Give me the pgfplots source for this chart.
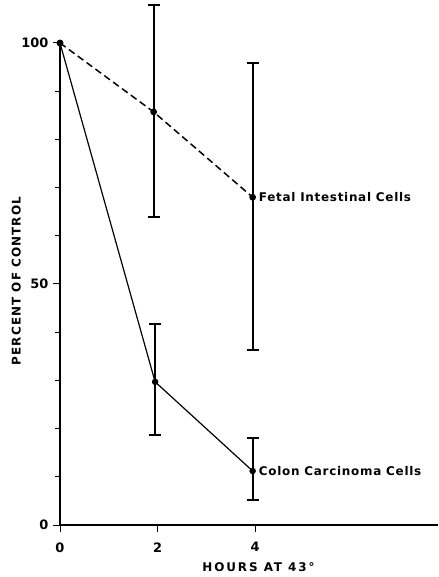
\documentclass[border=0pt]{standalone}
\usepackage{pgfplots}
\pgfplotsset{compat=1.18}
\usepackage{fontspec}
\setmainfont{DejaVu Sans}
\newfontfamily\lab[LetterSpace=6]{DejaVu Sans Bold}
\newfontfamily\labx[LetterSpace=16]{DejaVu Sans Bold}
\newfontfamily\laby[LetterSpace=9]{DejaVu Sans Bold}
\newfontfamily\tck{DejaVu Sans Bold}
\begin{document}
\begin{tikzpicture}
\begin{axis}[
  name=a,
  scale only axis,
  width=378bp, height=482bp,
  xmin=0, xmax=7.75, ymin=0, ymax=100,
  axis lines*=left,
  axis line style={line width=2.4pt},
  clip=false,
  xtick={0,2,4}, ytick={0,50,100},
  minor ytick={10,20,30,40,60,70,80,90},
  tick align=outside,
  major tick length=7bp, minor tick length=5bp,
  tick style={line width=1pt, black},
  /pgf/number format/assume math mode=true,
  ticklabel style={font=\tck\fontsize{13}{15}\selectfont},
  xticklabel style={yshift=-7bp},
  yticklabel style={xshift=-1bp},
]
\addplot[black, line width=1.5pt, dash pattern=on 7bp off 4bp,
  mark=*, mark size=2.6pt, mark options={solid},
  error bars/.cd, y dir=both, y explicit,
  error bar style={line width=1.8pt, solid}, error mark options={rotate=90, mark size=6bp, line width=1.5pt}]
  coordinates {(0,100) (1.92,85.7) += (0,22.2) -= (0,21.8) (3.95,68.0) += (0,27.8) -= (0,31.7)};
\addplot[black, line width=1.2pt,
  mark=*, mark size=2.6pt,
  error bars/.cd, y dir=both, y explicit,
  error bar style={line width=1.8pt}, error mark options={rotate=90, mark size=6bp, line width=1.5pt}]
  coordinates {(0,100) (1.95,29.7) += (0,12.0) -= (0,11.0) (3.95,11.2) += (0,6.8) -= (0,6.0)};
\node[anchor=west, font=\lab\fontsize{12}{14}\selectfont, inner sep=0pt, xshift=6bp] at (axis cs:3.95,68.0) {Fetal Intestinal Cells};
\node[anchor=west, font=\lab\fontsize{12}{14}\selectfont, inner sep=0pt, xshift=6bp] at (axis cs:3.95,11.2) {Colon Carcinoma Cells};
\node[anchor=north, font=\labx\fontsize{12}{14}\selectfont, inner sep=0pt] at ([yshift=-37bp]axis cs:4.07,0) {HOURS AT 43°};
\node[anchor=south, rotate=90, font=\laby\fontsize{12}{14}\selectfont, inner sep=0pt] at ([xshift=-39bp]axis cs:0,50.6) {PERCENT OF CONTROL};
\end{axis}
\pgfresetboundingbox
\path ([xshift=-60bp,yshift=-52bp]a.south west) rectangle ([yshift=43bp]a.north east);
\end{tikzpicture}
\end{document}
